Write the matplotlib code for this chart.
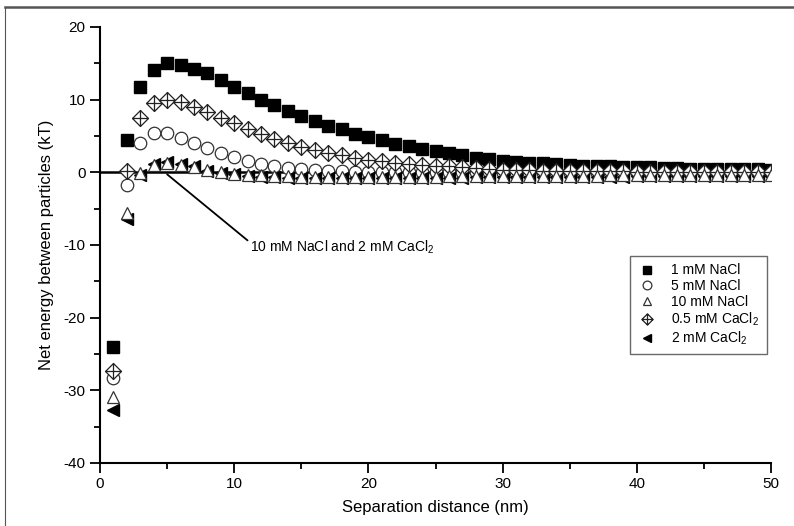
import numpy as np
import matplotlib.pyplot as plt
from matplotlib.path import Path
from matplotlib.lines import Line2D

plt.rcParams['font.family'] = ['Liberation Sans', 'DejaVu Sans']
plt.rcParams['mathtext.fontset'] = 'custom'
plt.rcParams['mathtext.rm'] = 'Liberation Sans'
plt.rcParams['mathtext.it'] = 'Liberation Sans'
plt.rcParams['axes.unicode_minus'] = False

# separation distance (nm)
dist = np.arange(1, 51)

nacl_1mM = [-24.0, 4.4, 11.7, 14.1, 15.0, 14.8, 14.2, 13.6, 12.7, 11.7,
            10.9, 10.0, 9.2, 8.4, 7.7, 7.0, 6.4, 5.9, 5.3, 4.8,
            4.4, 3.9, 3.6, 3.2, 2.9, 2.6, 2.3, 2.0, 1.8, 1.6,
            1.4, 1.3, 1.2, 1.1, 1.0, 0.9, 0.85, 0.8, 0.75, 0.7,
            0.65, 0.6, 0.55, 0.5, 0.5, 0.45, 0.45, 0.4, 0.4, 0.35]
nacl_5mM = [-28.3, -1.8, 4.0, 5.4, 5.4, 4.7, 4.0, 3.3, 2.6, 2.1,
            1.6, 1.1, 0.8, 0.6, 0.4, 0.3, 0.2, 0.12, 0.08, 0.05,
            0.03, 0.02, 0.0, 0.0, -0.02, -0.03, -0.03, -0.04, -0.04, -0.05,
            -0.05, -0.05, -0.05, -0.05, -0.05, -0.05, -0.05, -0.05, -0.05, -0.05,
            -0.05, -0.05, -0.05, -0.05, -0.05, -0.05, -0.05, -0.05, -0.05, -0.05]
nacl_10mM = [-31.0, -5.6, -0.1, 1.0, 1.2, 1.0, 0.7, 0.3, 0.0, -0.2,
             -0.35, -0.45, -0.5, -0.55, -0.6, -0.6, -0.6, -0.6, -0.6, -0.6,
             -0.6, -0.6, -0.6, -0.6, -0.6, -0.58, -0.56, -0.55, -0.54, -0.53,
             -0.52, -0.51, -0.5, -0.49, -0.48, -0.47, -0.46, -0.45, -0.45, -0.44,
             -0.44, -0.43, -0.43, -0.42, -0.42, -0.41, -0.41, -0.4, -0.4, -0.4]
cacl2_05mM = [-27.4, 0.2, 7.4, 9.5, 9.9, 9.7, 9.0, 8.3, 7.5, 6.7,
              6.0, 5.2, 4.6, 4.0, 3.5, 3.0, 2.6, 2.3, 2.0, 1.7,
              1.5, 1.3, 1.15, 1.0, 0.9, 0.8, 0.65, 0.55, 0.45, 0.35,
              0.3, 0.25, 0.2, 0.2, 0.15, 0.15, 0.12, 0.1, 0.1, 0.08,
              0.08, 0.07, 0.06, 0.06, 0.05, 0.05, 0.05, 0.04, 0.04, 0.04]
cacl2_2mM = [-32.7, -6.4, -0.4, 1.15, 1.4, 1.15, 0.9, 0.2, -0.15, -0.3,
             -0.5, -0.6, -0.7, -0.75, -0.8, -0.8, -0.82, -0.82, -0.82, -0.82,
             -0.8, -0.8, -0.8, -0.78, -0.77, -0.75, -0.74, -0.72, -0.71, -0.7,
             -0.68, -0.67, -0.66, -0.65, -0.64, -0.63, -0.62, -0.61, -0.6, -0.59,
             -0.58, -0.57, -0.56, -0.55, -0.54, -0.53, -0.52, -0.51, -0.5, -0.5]

labels = ['1 mM NaCl', '5 mM NaCl', '10 mM NaCl',
          '0.5 mM CaCl$_2$', '2 mM CaCl$_2$']

# diamond with a cross inside
crossed_diamond = Path(
    [(0, 1), (1, 0), (0, -1), (-1, 0), (0, 1),
     (0, 1), (0, -1), (-1, 0), (1, 0)],
    [Path.MOVETO, Path.LINETO, Path.LINETO, Path.LINETO, Path.CLOSEPOLY,
     Path.MOVETO, Path.LINETO, Path.MOVETO, Path.LINETO])

fig = plt.figure(figsize=(7.94, 5.26), dpi=100)
ax = fig.add_axes([0.126, 0.12, 0.845, 0.829])

ax.axhline(0, color='black', lw=1.8, zorder=1)

h1, = ax.plot(dist, nacl_1mM, ls='none', marker='s', ms=8, mfc='black',
              mec='black', zorder=3, label=labels[0])
h2, = ax.plot(dist, nacl_5mM, ls='none', marker='o', ms=9, mfc='white',
              mec='#333333', mew=0.9, zorder=3, label=labels[1])
h5, = ax.plot(dist, cacl2_2mM, ls='none', marker='<', ms=9, mfc='black',
              mec='black', zorder=3, label=labels[4])
h3, = ax.plot(dist, nacl_10mM, ls='none', marker='^', ms=9, mfc='white',
              mec='#333333', mew=0.9, zorder=4, label=labels[2])
h4, = ax.plot(dist, cacl2_05mM, ls='none', marker=crossed_diamond, ms=11.5,
              mfc='white', mec='#222222', mew=0.9, zorder=3, label=labels[3])

ax.annotate('10 mM NaCl and 2 mM CaCl$_2$', xy=(5.0, -0.3), xytext=(11.2, -10.3),
            fontsize=10, ha='left', va='center',
            arrowprops=dict(arrowstyle='-', color='black', lw=1.3,
                            shrinkA=0, shrinkB=0, relpos=(0, 0.75)))

ax.set_xlim(0, 50)
ax.set_ylim(-40, 20)
ax.set_xticks(np.arange(0, 51, 10))
ax.set_xticks(np.arange(0, 51, 5), minor=True)
ax.set_yticks(np.arange(-40, 21, 10))
ax.set_yticks(np.arange(-40, 21, 5), minor=True)
ax.tick_params(which='major', direction='out', length=7, width=1.3, labelsize=11)
ax.tick_params(which='minor', direction='out', length=4, width=1.3)
for s in ['top', 'right']:
    ax.spines[s].set_visible(False)
for s in ['left', 'bottom']:
    ax.spines[s].set_linewidth(1.5)

ax.set_xlabel('Separation distance (nm)', fontsize=12, labelpad=6)
ax.set_ylabel('Net energy between particles (kT)', fontsize=12, labelpad=7)

leg = ax.legend(handles=[h1, h2, h3, h4, h5], loc='upper left',
                bbox_to_anchor=(0.79, 0.475), fontsize=10, markerscale=0.7,
                frameon=True, fancybox=False, edgecolor='#444444',
                labelspacing=0.12, handlelength=1.3, handletextpad=1.1,
                borderpad=0.55, borderaxespad=0)
leg.get_frame().set_linewidth(1.0)

# frame of the cropped figure panel
fig.add_artist(Line2D([5 / 794, 1], [1 - 7 / 526, 1 - 7 / 526],
                      transform=fig.transFigure, color='#555555', lw=1.8))
fig.add_artist(Line2D([5 / 794, 5 / 794], [0, 1 - 7 / 526],
                      transform=fig.transFigure, color='#555555', lw=0.8))

fig.savefig('out.png', dpi=100)
